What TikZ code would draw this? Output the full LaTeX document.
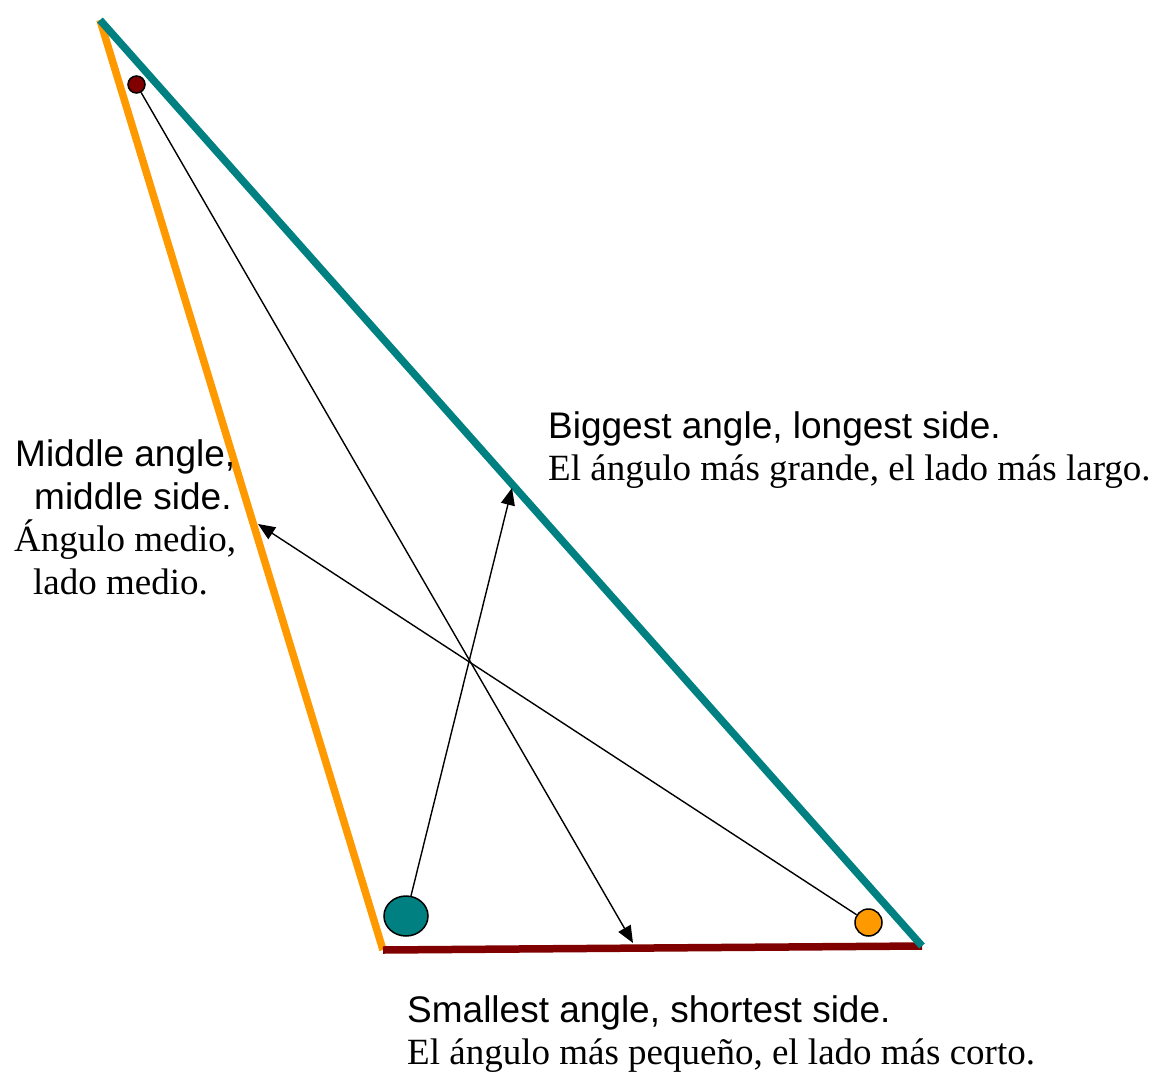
\documentclass[tikz,border=0pt]{standalone}
\usepackage{fontspec}
\setmainfont{Liberation Serif}
\newfontfamily\arialfont{Liberation Sans}
\usetikzlibrary{arrows.meta,shapes.geometric}
\definecolor{tealc}{RGB}{0,128,128}
\definecolor{orangec}{RGB}{255,153,0}
\definecolor{maroonc}{RGB}{128,0,0}
\tikzset{
  side/.style={line width=7.5pt},
  dot/.style={draw=black, line width=1.5pt, inner sep=0pt},
  arr/.style={draw=black, line width=1.4pt, -{Triangle[length=17pt,width=14pt]}},
  sanslbl/.style={anchor=base west, inner sep=0pt, font=\arialfont\fontsize{37}{42}\selectfont},
  seriflbl/.style={anchor=base west, inner sep=0pt, font=\fontsize{37}{42}\selectfont},
}
\begin{document}
\begin{tikzpicture}[x=1pt,y=-1pt]
\useasboundingbox (0,0) rectangle (1160,1074);
% vertices
\coordinate (A) at (100,20);
\coordinate (B) at (383,950);
\coordinate (C) at (922,946);
% sides
\draw[side, orangec] (A) -- (B);
\draw[side, maroonc] (B) -- (C);
\draw[side, tealc] (A) -- (C);
% dots
\node[dot, circle, fill=maroonc, minimum size=17pt] (md) at (136.5,84.5) {};
\node[dot, ellipse, fill=tealc, minimum width=44pt, minimum height=40pt] (td) at (406,916) {};
\node[dot, circle, fill=orangec, minimum size=27pt] (od) at (868.5,922.5) {};
% arrow tips
\coordinate (t1) at (633,943);
\coordinate (t2) at (512,488);
\coordinate (t3) at (258,524);
\draw[arr] (md) -- (t1);
\draw[arr] (td) -- (t2);
\draw[arr] (od) -- (t3);
% labels
\node[sanslbl] (big1) at (548,438) {Biggest angle, longest side.};
\node[seriflbl] (big2) at (548,480) {El ángulo más grande, el lado más largo.};
\node[sanslbl] (mid1) at (15,466) {Middle angle,};
\node[sanslbl] (mid2) at (34,509) {middle side.};
\node[seriflbl] (mid3) at (14,551) {Ángulo medio,};
\node[seriflbl] (mid4) at (33,594) {lado medio.};
\node[sanslbl] (sm1) at (407,1022) {Smallest angle, shortest side.};
\node[seriflbl] (sm2) at (407,1064) {El ángulo más pequeño, el lado más corto.};
\end{tikzpicture}
\end{document}
